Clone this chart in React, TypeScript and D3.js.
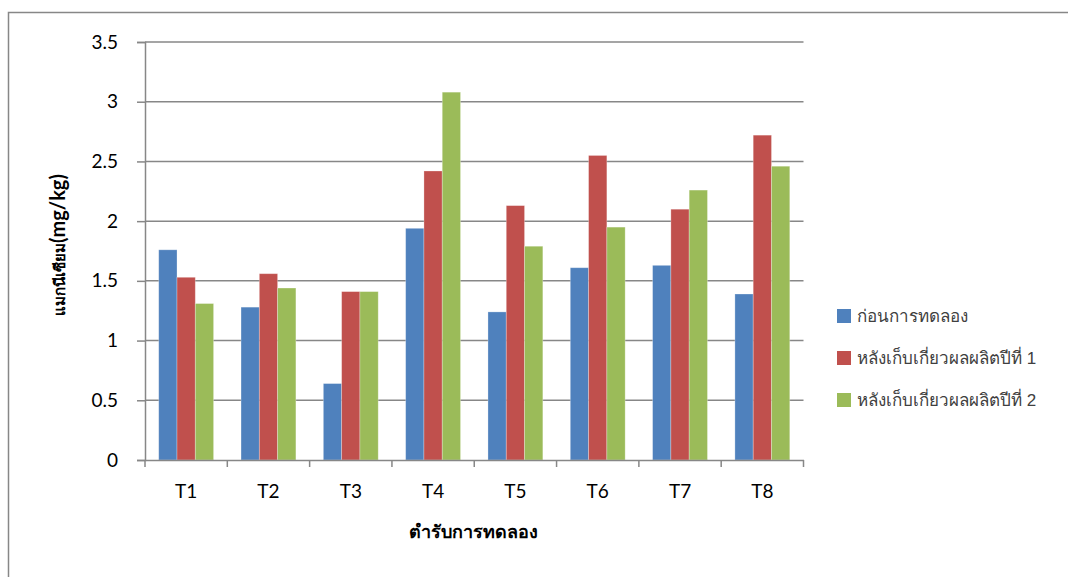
import { useEffect, useRef } from 'react';
import * as d3 from 'd3';

const categories = ['T1', 'T2', 'T3', 'T4', 'T5', 'T6', 'T7', 'T8'];
const seriesNames = ['ก่อนการทดลอง', 'หลังเก็บเกี่ยวผลผลิตปีที่ 1', 'หลังเก็บเกี่ยวผลผลิตปีที่ 2'];
const beforeValues = [1.76, 1.28, 0.64, 1.94, 1.24, 1.61, 1.63, 1.39];
const year1Values = [1.53, 1.56, 1.41, 2.42, 2.13, 2.55, 2.1, 2.72];
const year2Values = [1.31, 1.44, 1.41, 3.08, 1.79, 1.95, 2.26, 2.46];
const yTicks = [0, 0.5, 1, 1.5, 2, 2.5, 3, 3.5];
const colors = ['#4F81BD', '#C0504D', '#9BBB59'];

export default function App() {
    const ref = useRef<SVGSVGElement>(null);

    useEffect(() => {
        if (!ref.current) return;
        const svg = d3.select(ref.current);
        svg.selectAll('*').remove();

        const W = 1068, H = 577;
        const left = 145, right = 803.5, top = 42, bottom = 460;
        const font = 'Lato, "Open Sans", "Noto Sans", sans-serif';
        const axisColor = '#878787';
        const series = [beforeValues, year1Values, year2Values];

        svg.attr('width', W).attr('height', H);

        // chart border
        svg.append('rect')
            .attr('x', 8.5).attr('y', 12.5)
            .attr('width', W + 10).attr('height', H + 10)
            .attr('fill', 'white')
            .attr('stroke', axisColor)
            .attr('stroke-width', 1.5);

        const x = d3.scaleBand<string>()
            .domain(categories)
            .range([left, right])
            .paddingInner(0)
            .paddingOuter(0);

        // gap between groups = 1.5 bar widths
        const x1 = d3.scaleBand<number>()
            .domain([0, 1, 2])
            .range([0, x.bandwidth()])
            .paddingInner(0)
            .paddingOuter(0.75);

        const y = d3.scaleLinear().domain([0, 3.5]).range([bottom, top]);

        // grid lines
        svg.append('g')
            .selectAll('line')
            .data(yTicks.filter(d => d > 0))
            .enter()
            .append('line')
            .attr('x1', left).attr('x2', right)
            .attr('y1', d => y(d)).attr('y2', d => y(d))
            .attr('stroke', axisColor)
            .attr('stroke-width', 1.5);

        // bars
        const groups = svg.append('g')
            .selectAll('g')
            .data(categories)
            .enter()
            .append('g')
            .attr('transform', d => `translate(${x(d)},0)`);

        groups.selectAll('rect')
            .data((_, i) => series.map((s, k) => ({ k, v: s[i] })))
            .enter()
            .append('rect')
            .attr('x', d => x1(d.k)!)
            .attr('width', x1.bandwidth())
            .attr('y', d => y(d.v))
            .attr('height', d => bottom - y(d.v))
            .attr('fill', d => colors[d.k])
            .attr('stroke', 'rgba(255,255,255,0.35)')
            .attr('stroke-width', 0.8);

        // y axis
        const yAxis = svg.append('g')
            .attr('transform', `translate(${left},0)`)
            .call(d3.axisLeft(y).tickValues(yTicks).tickSize(8).tickPadding(19).tickFormat(d => String(d)));
        yAxis.select('.domain').attr('stroke', axisColor).attr('stroke-width', 1.5);
        yAxis.selectAll('.tick line').attr('stroke', axisColor).attr('stroke-width', 1.5);
        yAxis.selectAll('.tick text')
            .attr('fill', '#000')
            .style('font-family', font)
            .style('font-size', '19px');

        // x axis
        const xAxis = svg.append('g')
            .attr('transform', `translate(0,${bottom})`)
            .call(d3.axisBottom(x).tickSize(0).tickPadding(25));
        xAxis.select('.domain').attr('stroke', axisColor).attr('stroke-width', 1.5);
        xAxis.selectAll('.tick text')
            .attr('fill', '#000')
            .style('font-family', font)
            .style('font-size', '19px');
        xAxis.append('g')
            .selectAll('line')
            .data([...categories.map(c => x(c)!), right])
            .enter()
            .append('line')
            .attr('x1', d => d).attr('x2', d => d)
            .attr('y1', 0).attr('y2', 7)
            .attr('stroke', axisColor)
            .attr('stroke-width', 1.5);

        // axis titles
        svg.append('text')
            .attr('x', 473).attr('y', 538)
            .attr('text-anchor', 'middle')
            .style('font-family', font)
            .style('font-size', '18px')
            .style('font-weight', 'bold')
            .text('ตำรับการทดลอง');

        const yTitle = svg.append('text')
            .attr('transform', 'translate(65,245) rotate(-90)')
            .attr('text-anchor', 'middle')
            .style('font-family', font)
            .style('font-weight', 'bold');
        yTitle.append('tspan').style('font-size', '15px').text('แมกนีเซียม');
        yTitle.append('tspan').style('font-size', '20px').text('(mg/kg)');

        // legend
        const legend = svg.append('g')
            .selectAll('g')
            .data(seriesNames)
            .enter()
            .append('g')
            .attr('transform', (_, i) => `translate(837,${316 + i * 42})`);
        legend.append('rect')
            .attr('x', 0).attr('y', -7)
            .attr('width', 14).attr('height', 14)
            .attr('fill', (_, i) => colors[i]);
        legend.append('text')
            .attr('x', 20).attr('y', 6)
            .attr('fill', '#404040')
            .style('font-family', '"Liberation Sans", Arial, sans-serif')
            .style('font-size', '17px')
            .text(d => d);
    }, []);

    return (
        <div style={{ position: 'absolute', left: 0, top: 0 }}>
            <svg ref={ref} style={{ display: 'block' }} />
        </div>
    );
}
